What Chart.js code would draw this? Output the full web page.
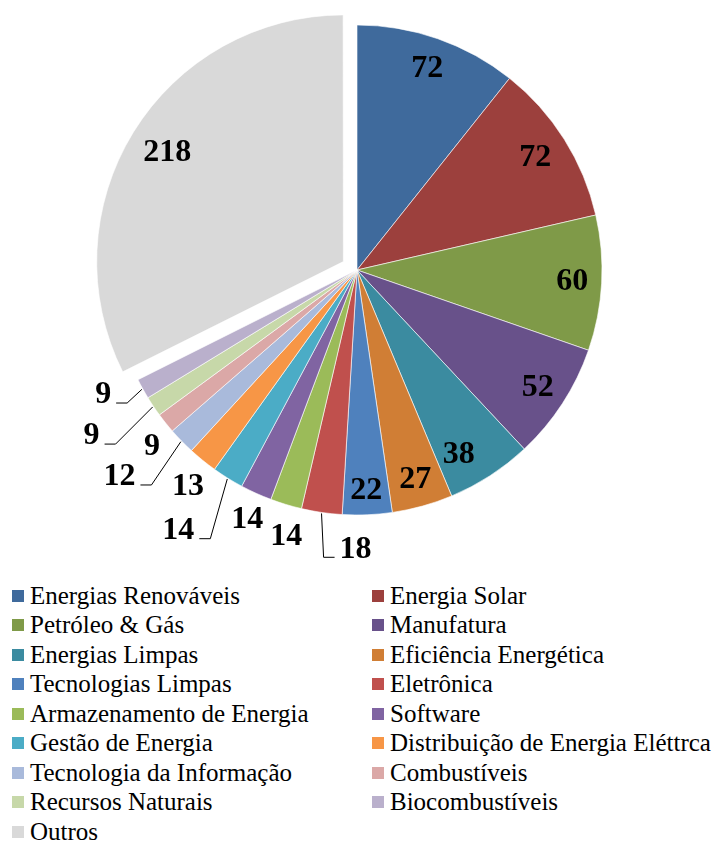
<!DOCTYPE html>
<html>
<head>
<meta charset="utf-8">
<script src="https://cdn.jsdelivr.net/npm/chart.js@4.4.1/dist/chart.umd.min.js"></script>
<style>
    body { margin: 0; background: #ffffff; }
    #wrap { position: relative; width: 714px; height: 841px; overflow: hidden; }
    #pieChart { position: absolute; left: 0; top: 0; }
    #legend {
        position: absolute; left: 12px; top: 581px; width: 702px;
        display: grid; grid-template-columns: 360px 342px;
        font-family: "Liberation Serif", "Times New Roman", serif; font-size: 25px; color: #000;
    }
    .item { display: flex; align-items: center; height: 29.5px; white-space: nowrap; }
    .box { width: 12px; height: 12px; margin-right: 6px; flex: none; }
</style>
</head>
<body>
<div id="wrap">
    <canvas id="pieChart" width="714" height="580"></canvas>
    <div id="legend"></div>
</div>
<script>
// ========================================
// DADOS DO GRÁFICO
// ========================================

const categorias = [
    'Energias Renováveis', 'Energia Solar', 'Petróleo & Gás', 'Manufatura',
    'Energias Limpas', 'Eficiência Energética', 'Tecnologias Limpas', 'Eletrônica',
    'Armazenamento de Energia', 'Software', 'Gestão de Energia', 'Distribuição de Energia Eléttrca',
    'Tecnologia da Informação', 'Combustíveis', 'Recursos Naturais', 'Biocombustíveis',
    'Outros'
];
const valores = [72, 72, 60, 52, 38, 27, 22, 18, 14, 14, 14, 13, 12, 9, 9, 9, 218];

const cores = [
    '#3f6a9c', '#9c403d', '#7f9a48', '#68518a', '#3b8ba0', '#d07e35',
    '#4f81bd', '#c0504d', '#9bbb59', '#8064a2', '#4bacc6', '#f79646',
    '#a9badb', '#dba8a7', '#c7d8a9', '#bab0cc', '#d9d9d9'
];

// posição dos rótulos: r = fração do raio, da = ajuste de ângulo (graus), leader = linha guia
const rotuloPos = [
    { r: 0.87 }, { r: 0.86 }, { r: 0.88 }, { r: 0.88 }, { r: 0.86, da: 4 }, { r: 0.89 }, { r: 0.9 },
    { r: 1.14, da: -8, leader: true },
    { r: 1.127, da: -2 },
    { r: 1.114, da: -0.6 },
    { r: 1.29, da: 2.6, leader: true },
    { r: 1.122, da: -1.1 },
    { r: 1.286, da: 3.2, leader: true },
    { r: 1.106, da: -2.2 },
    { r: 1.278, da: 1.8, leader: true },
    { r: 1.155, da: 2.8, leader: true },
    { r: 0.845 }
];

// Plugin para desenhar os valores
const valueLabels = {
    id: 'valueLabels',
    afterDatasetsDraw(chart) {
        const ctx = chart.ctx;
        const meta = chart.getDatasetMeta(0);
        ctx.save();
        ctx.font = 'bold 32px "Liberation Serif", "Times New Roman", serif';
        ctx.fillStyle = '#000';
        ctx.strokeStyle = '#000';
        ctx.lineWidth = 1;
        ctx.textAlign = 'center';
        ctx.textBaseline = 'middle';
        meta.data.forEach((arc, i) => {
            const p = arc.getProps(['x', 'y', 'startAngle', 'endAngle', 'outerRadius'], true);
            const mid = (p.startAngle + p.endAngle) / 2;
            // Chart.js v4 desloca o arco em offset / 4
            const off = (arc.options.offset || 0) / 4;
            const cx = p.x + Math.cos(mid) * off;
            const cy = p.y + Math.sin(mid) * off;
            const pos = rotuloPos[i];
            const a = mid + (pos.da || 0) * Math.PI / 180;
            const lx = cx + Math.cos(a) * p.outerRadius * pos.r;
            const ly = cy + Math.sin(a) * p.outerRadius * pos.r;
            const txt = String(valores[i]);
            ctx.fillText(txt, lx, ly);

            if (pos.leader) {
                const sx = cx + Math.cos(mid) * (p.outerRadius + 1);
                const sy = cy + Math.sin(mid) * (p.outerRadius + 1);
                const w = ctx.measureText(txt).width;
                const side = sx < lx ? -1 : 1;
                const edge = lx + side * w / 2;
                const hy = ly + 8;
                ctx.beginPath();
                ctx.moveTo(sx, sy);
                ctx.lineTo(edge + side * 16, hy);
                ctx.lineTo(edge + side * 5, hy);
                ctx.stroke();
            }
        });
        ctx.restore();
    }
};

const ctx = document.getElementById('pieChart').getContext('2d');
const pieChart = new Chart(ctx, {
    type: 'pie',
    data: {
        labels: categorias,
        datasets: [{
            data: valores,
            backgroundColor: cores,
            borderColor: 'rgba(255, 255, 255, 0.6)',
            borderWidth: 1,
            offset: valores.map((v, i) => i === valores.length - 1 ? 64 : 0)
        }]
    },
    options: {
        responsive: false,
        animation: false,
        radius: 245,
        layout: { padding: { bottom: 40 } },
        plugins: {
            legend: { display: false },
            tooltip: { enabled: false }
        }
    },
    plugins: [valueLabels]
});

// Legenda em duas colunas
const legend = document.getElementById('legend');
categorias.forEach((nome, i) => {
    const item = document.createElement('div');
    item.className = 'item';
    item.innerHTML = `<span class="box" style="background:${cores[i]}"></span><span>${nome}</span>`;
    legend.appendChild(item);
});
</script>
</body>
</html>
